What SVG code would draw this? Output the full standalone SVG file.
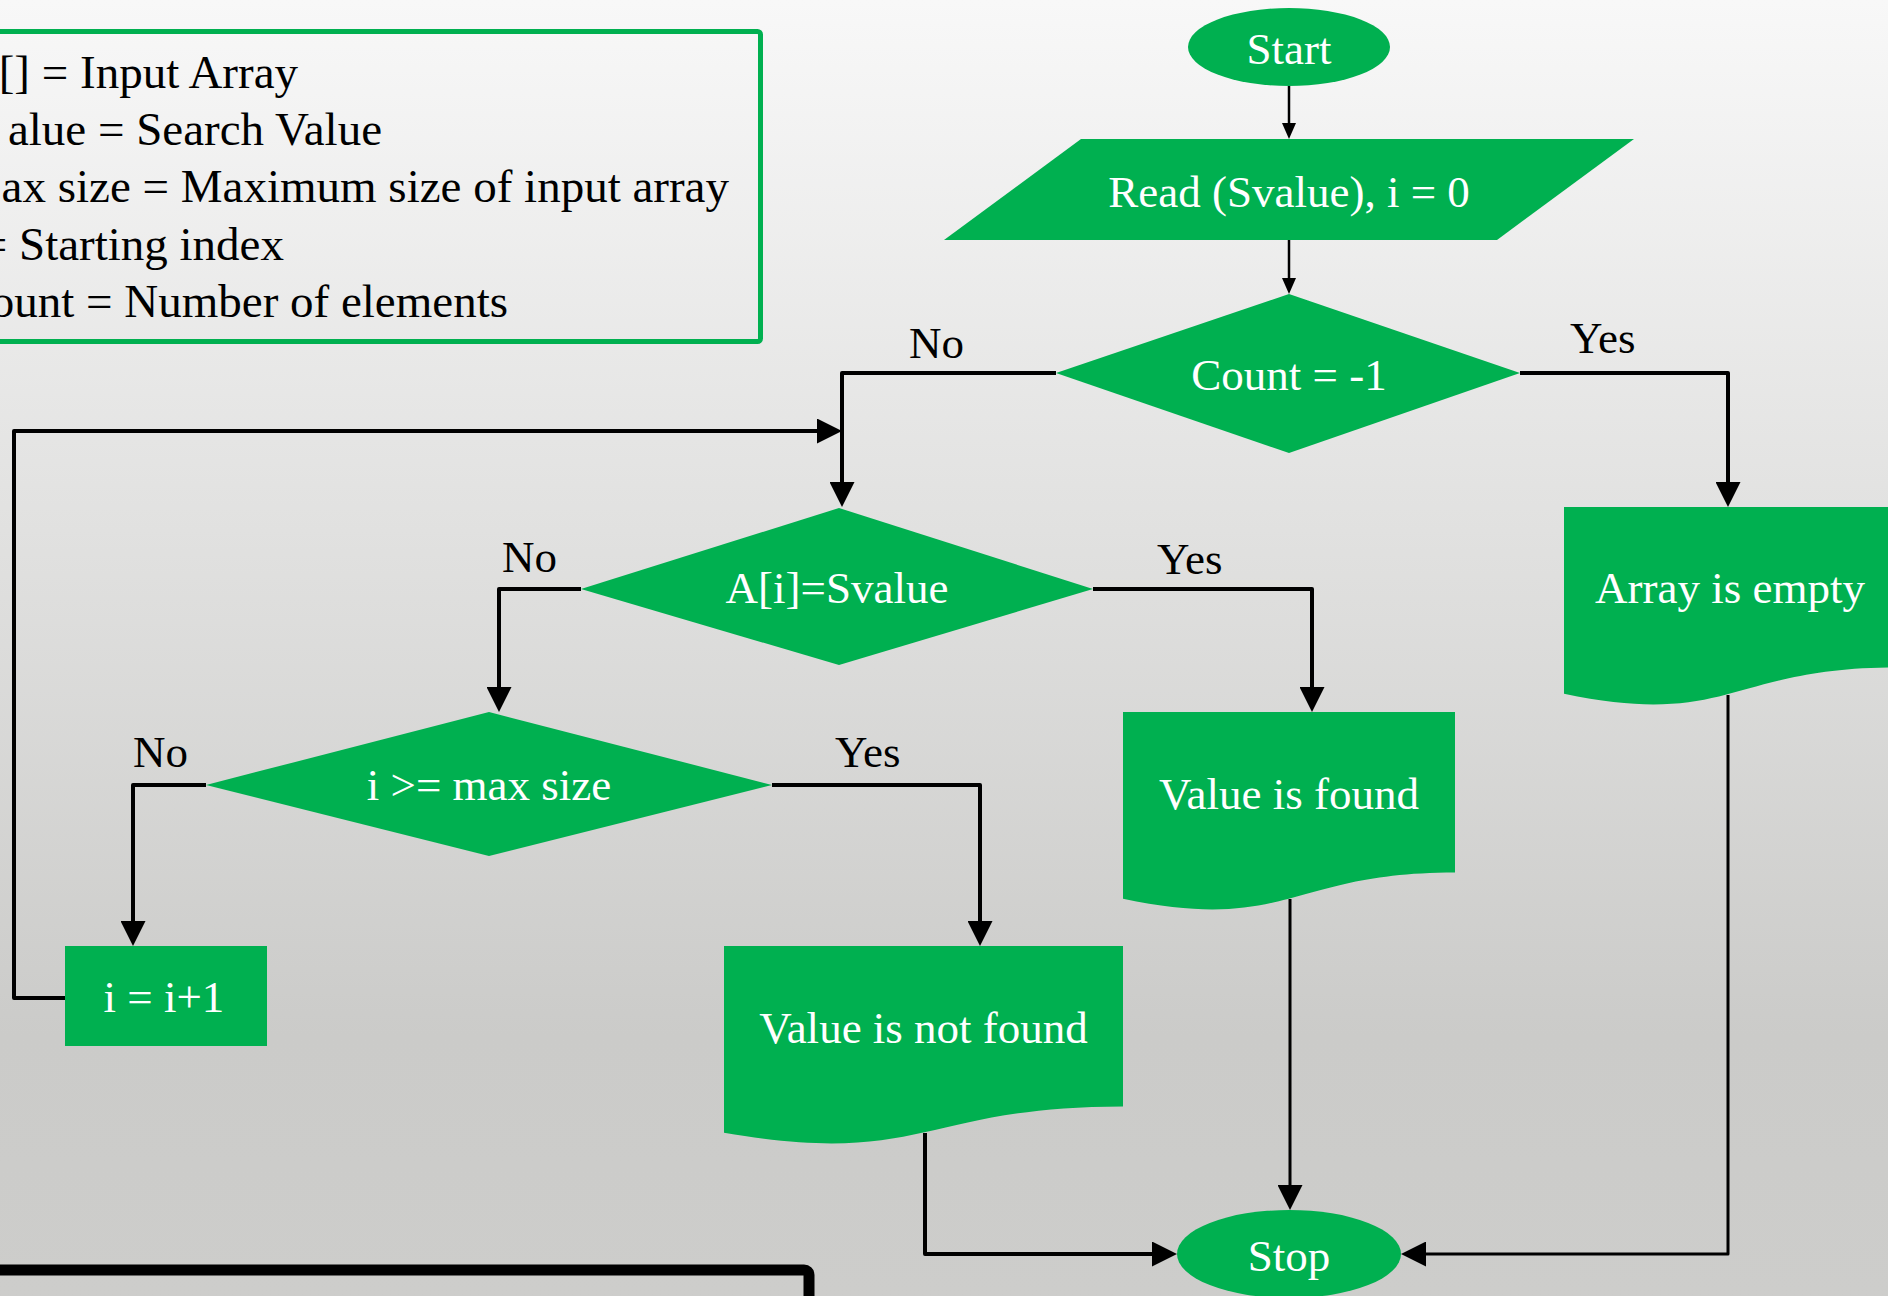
<svg xmlns="http://www.w3.org/2000/svg" width="1888" height="1296" viewBox="0 0 1888 1296">
  <defs>
    <linearGradient id="bg" x1="0" y1="0" x2="0" y2="1">
      <stop offset="0" stop-color="#f8f8f8"/>
      <stop offset="0.8" stop-color="#cbcbc9"/>
      <stop offset="1" stop-color="#cdcdcb"/>
    </linearGradient>
    <marker id="arr" markerUnits="userSpaceOnUse" markerWidth="25" markerHeight="25" refX="17" refY="12.5" orient="auto">
      <path d="M0,0 L25,12.5 L0,25 z" fill="#000"/>
    </marker>
    <marker id="arrS" markerUnits="userSpaceOnUse" markerWidth="16" markerHeight="14" refX="11" refY="7" orient="auto">
      <path d="M0,0 L16,7 L0,14 z" fill="#000"/>
    </marker>
    <style>
      .shape { fill: #00b050; }
      .nt { font-family: "Liberation Serif", "Times New Roman", serif; font-size: 45px; fill: #ffffff; text-anchor: middle; }
      .lbl { font-family: "Liberation Serif", "Times New Roman", serif; font-size: 45px; fill: #000000; }
      .leg { font-family: "Liberation Serif", "Times New Roman", serif; font-size: 47px; fill: #000000; text-anchor: end; }
      .c { fill: none; stroke: #000; stroke-width: 4; stroke-linejoin: round; marker-end: url(#arr); }
      .t { fill: none; stroke: #000; stroke-width: 2.5; marker-end: url(#arrS); }
      .ct { fill: none; stroke: #000; stroke-width: 3; stroke-linejoin: round; marker-end: url(#arr); }
    </style>
  </defs>

  <rect x="0" y="0" width="1888" height="1296" fill="url(#bg)"/>

  <g id="legend">
    <rect x="-10" y="31.5" width="770.5" height="310" rx="3" fill="none" stroke="#00b050" stroke-width="5"/>
    <text class="leg" x="298" y="88">[] = Input Array</text>
    <text class="leg" x="382" y="145">alue = Search Value</text>
    <text class="leg" x="729" y="202">ax size = Maximum size of input array</text>
    <text class="leg" x="284" y="260">= Starting index</text>
    <text class="leg" x="508" y="317">ount = Number of elements</text>
  </g>

  <g id="bottom-box">
    <rect x="-20" y="1270" width="829" height="60" rx="5" fill="none" stroke="#000" stroke-width="11"/>
  </g>

  <g id="connectors">
    <path class="t" d="M1289,86 V134"/>
    <path class="t" d="M1289,240 V289"/>
    <path class="c" d="M1056,373 H842 V499"/>
    <path class="c" d="M1520,373 H1728 V499"/>
    <path class="c" d="M65,998 H14 V431 H834"/>
    <path class="c" d="M581,589 H499 V704"/>
    <path class="c" d="M1093,589 H1312 V704"/>
    <path class="c" d="M206,785 H133 V938"/>
    <path class="c" d="M772,785 H980 V938"/>
    <path class="c" d="M925,1133 V1254 H1169"/>
    <path class="ct" d="M1290,899 V1202"/>
    <path class="ct" d="M1728,695 V1254 H1409"/>
    <text class="lbl" x="909" y="358">No</text>
    <text class="lbl" x="1570" y="353">Yes</text>
    <text class="lbl" x="502" y="572">No</text>
    <text class="lbl" x="1157" y="574">Yes</text>
    <text class="lbl" x="133" y="767">No</text>
    <text class="lbl" x="835" y="767">Yes</text>
  </g>

  <g id="start">
    <ellipse class="shape" cx="1289" cy="47" rx="101" ry="39"/>
    <text class="nt" x="1289" y="64">Start</text>
  </g>

  <g id="read">
    <polygon class="shape" points="1081,139 1634,139 1497,240 944,240"/>
    <text class="nt" x="1289" y="207">Read (Svalue), i = 0</text>
  </g>

  <g id="count">
    <polygon class="shape" points="1289,294 1520,373 1289,453 1056,373"/>
    <text class="nt" x="1289" y="390">Count = -1</text>
  </g>

  <g id="compare">
    <polygon class="shape" points="839,508 1093,589 839,665 581,589"/>
    <text class="nt" x="837" y="603">A[i]=Svalue</text>
  </g>

  <g id="maxsize">
    <polygon class="shape" points="489,712 772,785 489,856 206,785"/>
    <text class="nt" x="489" y="800">i &gt;= max size</text>
  </g>

  <g id="increment">
    <rect class="shape" x="65" y="946" width="202" height="100"/>
    <text class="nt" x="164" y="1012">i = i+1</text>
  </g>

  <g id="not-found">
    <path class="shape" d="M724,946 H1123 V1106.4 C923.5,1106.4 923.5,1167.5 724,1132.8 Z"/>
    <text class="nt" x="923.5" y="1043">Value is not found</text>
  </g>

  <g id="found">
    <path class="shape" d="M1123,712 H1455 V872.4 C1289,872.4 1289,933.5 1123,898.8 Z"/>
    <text class="nt" x="1289" y="809">Value is found</text>
  </g>

  <g id="empty">
    <path class="shape" d="M1564,507 H1896 V667.4 C1730,667.4 1730,728.5 1564,693.8 Z"/>
    <text class="nt" x="1730" y="603">Array is empty</text>
  </g>

  <g id="stop">
    <ellipse class="shape" cx="1289" cy="1254" rx="112" ry="44"/>
    <text class="nt" x="1289" y="1271">Stop</text>
  </g>
</svg>
